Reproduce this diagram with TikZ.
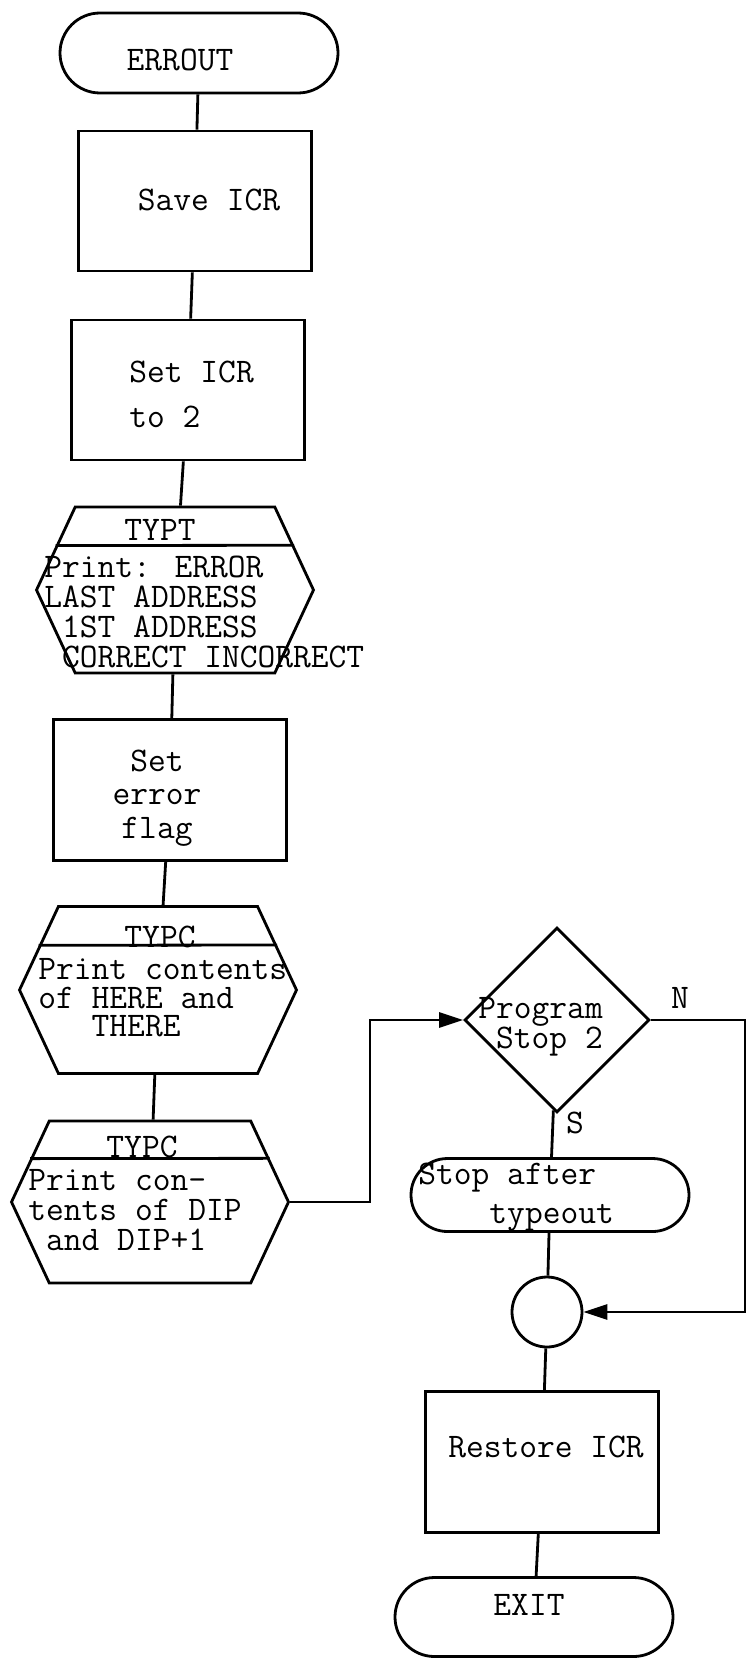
\documentclass[tikz,border=0pt]{standalone}
\usepackage{fontspec}
\usetikzlibrary{shapes.geometric,shapes.symbols,arrows.meta,calc}

\begin{document}
\begin{tikzpicture}[x=1pt,y=-1pt,line width=2.8pt,
    box/.style={draw,minimum width=233pt,minimum height=#1,inner sep=0},
    box/.default=140pt,
    term/.style={draw,rounded corners=0.5*#1,minimum width=278pt,minimum height=#1,inner sep=0},
    hexa/.style={draw,shape=signal,signal to=west and east,signal pointer angle=130,
      minimum width=277pt,minimum height=#1,inner sep=0},
    txt/.style={font=\ttfamily\fontsize{34.5}{#1}\selectfont,inner sep=0,align=left},
    txt/.default=30,
    arr/.style={-{Triangle[length=24pt,width=15pt]}}]
      \useasboundingbox (0,0) rectangle (751,1659);

      % left column
      \node[term=80pt] (errout) at (199,53) {};
      \node[box] (save) at (195,201) {};
      \node[box] (seticr) at (188,390) {};
      \node[hexa=166pt] (typt) at (175,590) {};
      \node[box=141pt] (flag) at (170,790) {};
      \node[hexa=167pt] (typc1) at (158,990) {};
      \node[hexa=162pt] (typc2) at (150,1202) {};

      % right column
      \node[draw,diamond,minimum width=185pt,minimum height=185pt,inner sep=0] (dec) at (557,1020) {};
      \node[term=73pt] (stop) at (550,1195) {};
      \node[draw,circle,minimum size=70pt,inner sep=0] (junc) at (547,1312) {};
      \node[box=141pt] (restore) at (542,1462) {};
      \node[term=79pt] (exit) at (534,1617) {};

      \foreach \h in {typt,typc1,typc2}
        \draw ($(\h.north west)!0.47!(\h.west)$) -- ($(\h.north east)!0.47!(\h.east)$);

      % texts
      \node[txt] (errout text) at (180,60) {ERROUT};
      \node[txt] (save text) at (209,200) {Save ICR};
      \node[txt=45,anchor=west] (seticr text) at (128,394) {Set ICR\\to 2};
      \node[txt] (typt title) at (160,530) {TYPT};
      \node[txt,anchor=west] (typt text) at (43,612)
        {Print: ERROR\\LAST ADDRESS\\\phantom{x}1ST ADDRESS\\\phantom{x}CORRECT INCORRECT};
      \node[txt=33.5,align=center] (flag text) at (157,798) {Set\\error\\flag};
      \node[txt] (typc1 title) at (160,937) {TYPC};
      \node[txt=28.5,anchor=west] (typc1 text) at (37,998)
        {Print contents\\of HERE and\\\phantom{xxx}THERE};
      \node[txt] (typc2 title) at (142,1147) {TYPC};
      \node[txt,anchor=west] (typc2 text) at (27,1210)
        {Print con-\\tents of DIP\\\phantom{x}and DIP+1};
      \node[txt,anchor=west] (dec text) at (477,1027) {Program\\\phantom{x}Stop 2};
      \node[txt] (no) at (680,998) {N};
      \node[txt] (yes) at (575,1123) {S};
      \node[txt=39,anchor=west] (stop text) at (417,1197) {Stop after\\\phantom{xxxx}typeout};
      \node[txt] (restore text) at (546,1447) {Restore ICR};
      \node[txt] (exit text) at (529,1605) {EXIT};

      % connectors
      \draw (errout) -- (save);
      \draw (save) -- (seticr);
      \draw (seticr) -- (typt);
      \draw (typt) -- (flag);
      \draw (flag) -- (typc1);
      \draw (typc1) -- (typc2);
      \draw[arr] (typc2.east) -- ++(80,0) |- (dec.west);
      \draw (dec) -- (stop);
      \draw[arr] (dec.east) -- ++(94,0) |- (junc.east);
      \draw (stop) -- (junc);
      \draw (junc) -- (restore);
      \draw (restore) -- (exit);
    \end{tikzpicture}
\end{document}
